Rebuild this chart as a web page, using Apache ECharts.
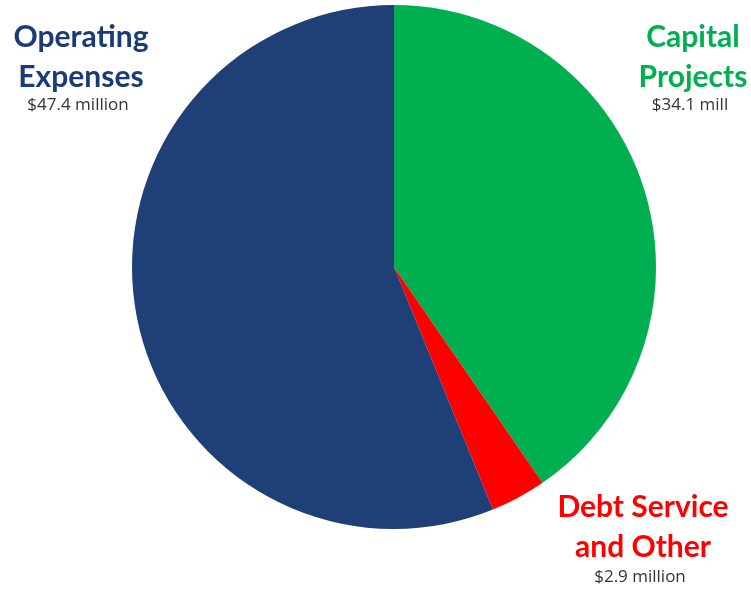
<!DOCTYPE html>
<html><head><meta charset="utf-8">
<script src="https://cdn.jsdelivr.net/npm/echarts@6/dist/echarts.min.js"></script>
<style>html,body{margin:0;padding:0;background:#fff}#c{width:751px;height:592px}</style>
</head><body><div id="c"></div>
<script>
const categories = ['Capital Projects', 'Debt Service and Other', 'Operating Expenses'];
const labelLines = [['Capital', 'Projects'], ['Debt Service', 'and Other'], ['Operating', 'Expenses']];
const values = [34.1, 2.9, 47.4];
const valueLabels = ['$34.1 mill', '$2.9 million', '$47.4 million'];
const colors = ['#00B050', '#FF0000', '#1F3F77'];
const textColors = ['#00B050', '#FF0000', '#1B3A78'];
const labelPos = [[693, 37], [643, 507], [81, 37]];

const chart = echarts.init(document.getElementById('c'));
const graphics = [];
categories.forEach((c, i) => {
  const [x, y] = labelPos[i];
  labelLines[i].forEach((t, j) => {
    graphics.push({type: 'text', x: x, y: y + j * 40,
      style: {text: t, fill: textColors[i], font: 'bold 30px Lato', textAlign: 'center', textVerticalAlign: 'middle'}});
  });
  graphics.push({type: 'text', x: x - 3, y: y + 68 + (i === 1 ? 2 : 0),
    style: {text: valueLabels[i], fill: '#333', font: '17px "Open Sans"', textAlign: 'center', textVerticalAlign: 'middle'}});
});

chart.setOption({
  animation: false,
  color: colors,
  graphic: graphics,
  series: [{
    type: 'pie',
    center: [394, 267],
    radius: 262,
    startAngle: 90,
    clockwise: true,
    label: {show: false},
    labelLine: {show: false},
    itemStyle: {borderWidth: 0},
    emphasis: {disabled: true},
    data: categories.map((c, i) => ({name: c, value: values[i]}))
  }]
});
</script></body></html>
